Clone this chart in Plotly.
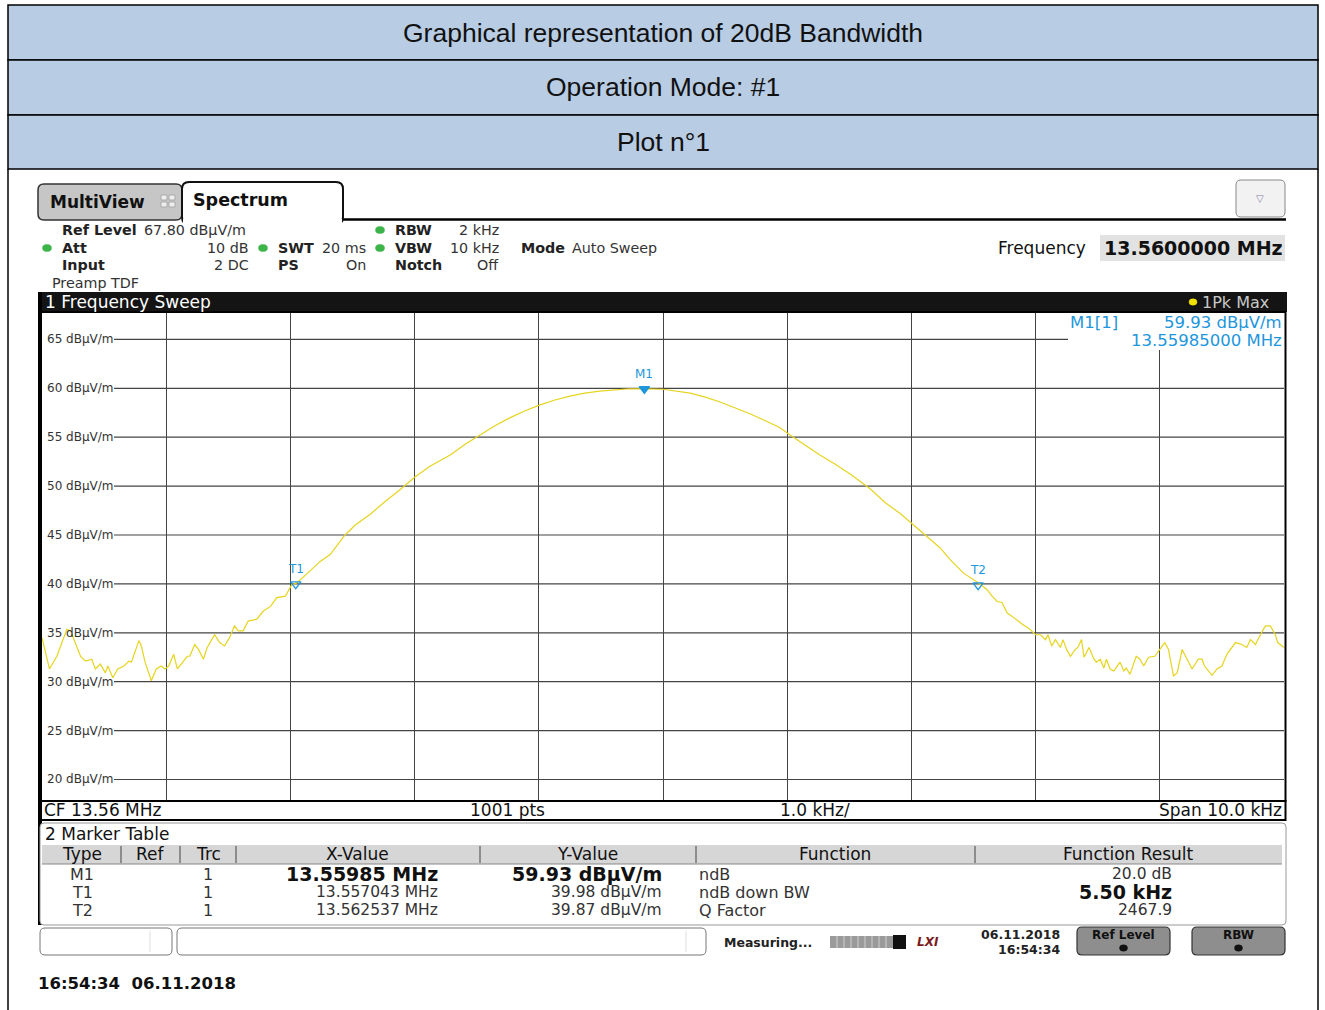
import plotly.graph_objects as go

W, H = 1325, 1010

# ------------------------------------------------------------------ data
START_MHZ = 13.555
STOP_MHZ = 13.565
REF_LEVEL = 67.80
BOTTOM_LEVEL = 17.80

# trace: offset (kHz) from start frequency, level (dBuV/m)
trace_offset_khz = [
    0.00, 0.06, 0.12, 0.20, 0.23, 0.31, 0.35, 0.40, 0.43, 0.47, 0.51, 0.53, 0.57, 0.61,
    0.66, 0.70, 0.72, 0.78, 0.80, 0.83, 0.88, 0.92, 0.96, 0.99, 1.02, 1.06, 1.09, 1.13,
    1.17, 1.19, 1.23, 1.26, 1.30, 1.33, 1.39, 1.43, 1.47, 1.51, 1.55, 1.58, 1.62, 1.66,
    1.73, 1.78, 1.84, 1.89, 1.96, 2.01, 2.05, 2.13, 2.24, 2.32, 2.44, 2.52, 2.64, 2.76,
    2.88, 3.00, 3.12, 3.29, 3.41, 3.53, 3.65, 3.77, 3.89, 4.01, 4.13, 4.25, 4.37, 4.49,
    4.61, 4.73, 4.85, 5.00, 5.22, 5.34, 5.46, 5.58, 5.70, 5.82, 5.94, 6.02, 6.14, 6.26,
    6.39, 6.51, 6.67, 6.79, 6.91, 7.03, 7.11, 7.23, 7.31, 7.42, 7.54, 7.61, 7.65, 7.69,
    7.73, 7.77, 7.83, 7.89, 7.94, 8.00, 8.04, 8.08, 8.10, 8.13, 8.16, 8.20, 8.22, 8.25,
    8.28, 8.32, 8.34, 8.37, 8.39, 8.43, 8.47, 8.49, 8.52, 8.55, 8.57, 8.60, 8.63, 8.68,
    8.71, 8.73, 8.76, 8.81, 8.84, 8.87, 8.91, 8.96, 9.00, 9.04, 9.07, 9.11, 9.14, 9.18,
    9.22, 9.26, 9.31, 9.34, 9.36, 9.42, 9.46, 9.50, 9.54, 9.61, 9.66, 9.70, 9.73, 9.77,
    9.81, 9.85, 9.89, 9.93, 9.95, 10.00,
]
trace_level = [
    34.5, 31.3, 32.6, 35.35, 35.2, 32.6, 32.1, 32.3, 31.3, 31.8, 30.9, 31.6, 30.4, 31.3,
    31.6, 32.1, 32.0, 34.2, 33.65, 32.0, 30.1, 31.3, 31.6, 31.3, 31.6, 32.8, 31.3, 32.0,
    32.6, 32.6, 33.8, 33.3, 32.3, 33.5, 34.8, 34.0, 33.65, 34.5, 35.7, 35.2, 35.2, 36.2,
    36.4, 37.2, 37.7, 38.6, 38.75, 39.9, 40.1, 41.0, 42.3, 43.0, 45.0, 46.0, 47.1, 48.4,
    49.6, 50.9, 52.0, 53.2, 54.3, 55.25, 56.2, 57.0, 57.7, 58.3, 58.8, 59.2, 59.5, 59.7,
    59.85, 59.95, 59.93, 59.9, 59.5, 59.1, 58.6, 58.0, 57.4, 56.7, 56.0, 55.25, 54.2, 53.2,
    52.2, 51.2, 49.7, 48.3, 47.2, 45.9, 45.1, 43.7, 42.5, 41.1, 40.1, 39.4, 38.75, 38.2,
    38.1, 37.05, 36.5, 35.9, 35.5, 34.8, 34.8, 34.3, 34.8, 33.65, 34.3, 33.5, 34.3, 33.3,
    32.6, 33.3, 33.5, 34.3, 32.5, 33.5, 32.3, 32.0, 32.3, 31.4, 32.3, 31.3, 31.1, 32.0,
    31.1, 31.4, 30.75, 32.6, 32.3, 31.6, 32.5, 32.6, 33.3, 34.0, 33.3, 30.6, 30.9, 33.3,
    32.3, 31.3, 32.3, 32.3, 31.6, 30.65, 31.3, 31.6, 32.8, 34.0, 33.8, 33.5, 34.3, 33.8,
    34.8, 35.7, 35.7, 34.8, 34.0, 33.5,
]

y_ticks = [20, 25, 30, 35, 40, 45, 50, 55, 60, 65]
y_unit = "dBµV/m"

marker_names = ["M1", "T1", "T2"]
marker_freq_mhz = [13.55985, 13.557043, 13.562537]
marker_level = [59.93, 39.98, 39.87]
marker_trc = ["1", "1", "1"]
function_names = ["ndB", "ndB down BW", "Q Factor"]
function_results = ["20.0 dB", "5.50 kHz", "2467.9"]

# ------------------------------------------------------------------ helpers
INSTR = "DejaVu Sans"
TITLE = "Liberation Sans, Arial"
BLUE = "#1e96dc"

fig = go.Figure()


def px(x):
    return x / W


def py(y):
    return 1 - y / H


def rect(x0, y0, x1, y1, fill=None, line=None, lw=1, layer="above"):
    fig.add_shape(type="rect", xref="paper", yref="paper",
                  x0=px(x0), x1=px(x1), y0=py(y1), y1=py(y0),
                  fillcolor=fill if fill else "rgba(0,0,0,0)",
                  line=dict(color=line if line else "rgba(0,0,0,0)", width=lw if line else 0),
                  layer=layer)


def hline(x0, x1, y, color="#000", lw=1, layer="above"):
    fig.add_shape(type="line", xref="paper", yref="paper",
                  x0=px(x0), x1=px(x1), y0=py(y), y1=py(y),
                  line=dict(color=color, width=lw), layer=layer)


def vline(x, y0, y1, color="#000", lw=1, layer="above"):
    fig.add_shape(type="line", xref="paper", yref="paper",
                  x0=px(x), x1=px(x), y0=py(y0), y1=py(y1),
                  line=dict(color=color, width=lw), layer=layer)


def rrect(x0, y0, x1, y1, r, fill=None, line=None, lw=1):
    X0, X1 = px(x0), px(x1)
    Y0, Y1 = py(y0), py(y1)
    rx, ry = r / W, r / H
    p = (f"M {X0+rx},{Y0} L {X1-rx},{Y0} Q {X1},{Y0} {X1},{Y0-ry} "
         f"L {X1},{Y1+ry} Q {X1},{Y1} {X1-rx},{Y1} L {X0+rx},{Y1} "
         f"Q {X0},{Y1} {X0},{Y1+ry} L {X0},{Y0-ry} Q {X0},{Y0} {X0+rx},{Y0} Z")
    fig.add_shape(type="path", xref="paper", yref="paper", path=p,
                  fillcolor=fill if fill else "rgba(0,0,0,0)",
                  line=dict(color=line if line else "rgba(0,0,0,0)", width=lw if line else 0))


def dot(x, y, r, color, line=None):
    fig.add_shape(type="circle", xref="paper", yref="paper",
                  x0=px(x - r), x1=px(x + r), y0=py(y + r * 0.8), y1=py(y - r * 0.8),
                  fillcolor=color, line=dict(color=line if line else color, width=0.5))


def T(x, y, s, size=14, color="#222", bold=False, anchor="left", family=INSTR):
    fig.add_annotation(x=px(x), y=py(y), xref="paper", yref="paper",
                       text=f"<b>{s}</b>" if bold else s, showarrow=False,
                       xanchor=anchor, yanchor="middle", borderpad=0,
                       font=dict(size=size, color=color, family=family))


# ------------------------------------------------------------------ data traces
freqs = [START_MHZ + k / 1000 for k in trace_offset_khz]
fig.add_trace(go.Scatter(x=freqs, y=trace_level, mode="lines",
                         line=dict(color="#e6d41e", width=1.2), hoverinfo="skip"))
fig.add_trace(go.Scatter(x=marker_freq_mhz, y=marker_level, mode="markers",
                         marker=dict(symbol=["triangle-down", "triangle-down-open", "triangle-down-open"],
                                     size=9, color=BLUE, line=dict(color=BLUE, width=1.3)),
                         hoverinfo="skip"))
for n, f, l in zip(marker_names, marker_freq_mhz, marker_level):
    fig.add_annotation(x=f, y=l, xref="x", yref="y", text=n, showarrow=False,
                       yshift=15, font=dict(size=12, color=BLUE, family=INSTR))

# horizontal grid lines (start right of the level labels)
for v in y_ticks:
    fig.add_shape(type="line", xref="paper", yref="y", x0=px(114), x1=px(1284), y0=v, y1=v,
                  line=dict(color="#444", width=1.2), layer="below")
    fig.add_annotation(x=px(46), y=v, xref="paper", yref="y", text=f"{v} {y_unit}",
                       showarrow=False, xanchor="left", yanchor="middle", borderpad=0,
                       font=dict(size=12, color="#333", family=INSTR))

# ------------------------------------------------------------------ title rows
for (y0, y1, s) in [(5, 60, "Graphical representation of 20dB Bandwidth"),
                    (60, 115, "Operation Mode: #1"),
                    (115, 169, "Plot n°1")]:
    rect(8, y0, 1318, y1, fill="#b8cce4", line="#000", lw=1.5)
    T(663, (y0 + y1) / 2, s, size=26.5, color="#111", anchor="center", family=TITLE)
vline(8, 169, 1010, lw=1.5)
vline(1318, 169, 1010, lw=1.5)

# ------------------------------------------------------------------ tabs
rrect(38, 184, 182, 220, 6, fill="#c6c6c6", line="#333", lw=1.5)
T(49, 202, "MultiView", size=17, bold=True, color="#111")
rect(161, 195, 167, 200, fill="#eee", line="#aaa", lw=1)
rect(169, 195, 175, 200, fill="#eee", line="#aaa", lw=1)
rect(161, 202, 167, 207, fill="#eee", line="#aaa", lw=1)
rect(169, 202, 175, 207, fill="#eee", line="#aaa", lw=1)
rrect(182, 182, 343, 224, 7, fill="#fff", line="#111", lw=2)
rect(183, 219, 342, 226, fill="#fff")
hline(343, 1286, 219.5, lw=2.5)
T(192, 200, "Spectrum", size=17.5, bold=True, color="#111")
rrect(1236, 180, 1285, 217, 5, fill="#f2f2f2", line="#888", lw=1)
T(1260, 199, "▽", size=10, color="#8080a8", anchor="center")

# ------------------------------------------------------------------ info panel
GREEN = "#3cb44a"
FS = 14.3
T(61, 230, "Ref Level", bold=True, size=FS)
T(143, 230, "67.80 dBµV/m", color="#333", size=FS)
dot(380, 230, 4.5, GREEN)
T(394, 230, "RBW", bold=True, size=FS)
T(500, 230, "2 kHz", anchor="right", color="#333", size=FS)

dot(47, 248, 4.5, GREEN)
T(61, 248, "Att", bold=True, size=FS)
T(250, 248, "10 dB", anchor="right", color="#333", size=FS)
dot(263, 248, 4.5, GREEN)
T(277, 248, "SWT", bold=True, size=FS)
T(367, 248, "20 ms", anchor="right", color="#333", size=FS)
dot(380, 248, 4.5, GREEN)
T(394, 248, "VBW", bold=True, size=FS)
T(500, 248, "10 kHz", anchor="right", color="#333", size=FS)
T(520, 248, "Mode", bold=True, size=FS)
T(571, 248, "Auto Sweep", color="#333", size=FS)

T(61, 265, "Input", bold=True, size=FS)
T(250, 265, "2 DC", anchor="right", color="#333", size=FS)
T(277, 265, "PS", bold=True, size=FS)
T(367, 265, "On", anchor="right", color="#333", size=FS)
T(394, 265, "Notch", bold=True, size=FS)
T(500, 265, "Off", anchor="right", color="#333", size=FS)
T(51, 283, "Preamp TDF", color="#333", size=FS)

T(1087, 248, "Frequency", size=17, anchor="right", color="#111")
rect(1100, 235, 1285, 261, fill="#e2e2e2")
T(1284, 248, "13.5600000 MHz", size=19, bold=True, anchor="right", color="#111")

# ------------------------------------------------------------------ diagram header bar
rect(38, 292, 1287, 312, fill="#141414")
T(44, 302, "1 Frequency Sweep", size=17, color="#fff")
dot(1193, 302, 4, "#f2e200")
T(1201, 302, "1Pk Max", size=16, color="#c8c8c8")

# marker result box in the diagram
rect(1068, 313, 1285, 350, fill="#fff")
T(1069, 322, f"{marker_names[0]}[1]", size=16.5, color=BLUE)
T(1283, 322, f"{marker_level[0]:.2f} {y_unit}", size=16.5, color=BLUE, anchor="right")
T(1283, 340, f"{marker_freq_mhz[0]:.8f} MHz", size=16.5, color=BLUE, anchor="right")

# frame of diagram
rect(40, 312, 1285.5, 801, line="#000", lw=2)
rect(40, 801, 1285.5, 820, fill="#fff", line="#000", lw=2)
vline(40, 292, 925, lw=4)
span_khz = (STOP_MHZ - START_MHZ) * 1000
T(43, 810, f"CF {(START_MHZ + STOP_MHZ) / 2:.2f} MHz", size=17, color="#111")
T(507, 810, "1001 pts", size=17, color="#111", anchor="center")
T(815, 810, f"{span_khz / 10:.1f} kHz/", size=17, color="#111", anchor="center")
T(1283, 810, f"Span {span_khz:.1f} kHz", size=17, color="#111", anchor="right")

# ------------------------------------------------------------------ marker table
rrect(40, 823, 1286, 925, 4, fill="#fff", line="#999", lw=1)
T(44, 834, "2 Marker Table", size=17, color="#111")
rect(42, 845, 1282, 864, fill="#d6d6d6")
hline(42, 1282, 864, color="#888", lw=1)
for xs in [121, 180, 236, 480, 696, 975]:
    vline(xs, 846, 863, color="#444", lw=1)
for (xc, s) in [(82, "Type"), (150, "Ref"), (208, "Trc"), (357, "X-Value"),
                (587, "Y-Value"), (835, "Function"), (1128, "Function Result")]:
    T(xc, 854, s, size=17, color="#111", anchor="center")

row_y = [874, 892, 910]
for i in range(3):
    y = row_y[i]
    big = i == 0
    T(82, y, marker_names[i], size=16, color="#333", anchor="center")
    T(208, y, marker_trc[i], size=16, color="#333", anchor="center")
    xs = f"{marker_freq_mhz[i]:.5f} MHz" if big else f"{marker_freq_mhz[i]:.6f} MHz"
    T(439, y, xs, size=19 if big else 15.5, bold=big, color="#111" if big else "#333", anchor="right")
    T(663, y, f"{marker_level[i]:.2f} {y_unit}", size=19 if big else 15.5, bold=big,
      color="#111" if big else "#333", anchor="right")
    T(698, y, function_names[i], size=16, color="#333")
    bold_res = i == 1
    T(1173, y, function_results[i], size=19 if bold_res else 15.5, bold=bold_res,
      color="#111" if bold_res else "#333", anchor="right")

# ------------------------------------------------------------------ status bar
rrect(40, 928, 172, 955, 5, fill="#fff", line="#777", lw=1)
vline(150, 931, 952, color="#ddd", lw=1)
rrect(177, 928, 706, 955, 5, fill="#fff", line="#777", lw=1)
vline(686, 931, 952, color="#ddd", lw=1)
T(723, 942, "Measuring...", size=12.5, bold=True, color="#222")
rect(830, 936, 893, 948, fill="#9a9a9a")
for xs in range(837, 893, 7):
    vline(xs, 936, 948, color="#d0d0d0", lw=1)
rect(893, 935, 906, 949, fill="#111")
T(928, 942, "<i>LXI</i>", size=12, bold=True, color="#7a1c1c", anchor="center")
T(1061, 934, "06.11.2018", size=12.5, bold=True, color="#222", anchor="right")
T(1061, 949, "16:54:34", size=12.5, bold=True, color="#222", anchor="right")
for (x0, x1, s) in [(1077, 1170, "Ref Level"), (1192, 1285, "RBW")]:
    rrect(x0, 927, x1, 955, 5, fill="#8e8e8e", line="#333", lw=1.2)
    T((x0 + x1) / 2, 935, s, size=12, bold=True, color="#111", anchor="center")
    dot((x0 + x1) / 2, 948, 4, "#111")

T(37, 983, "16:54:34  06.11.2018", size=16.5, bold=True, color="#111")

# ------------------------------------------------------------------ layout
fig.update_layout(
    width=W, height=H, margin=dict(l=0, r=0, t=0, b=0),
    paper_bgcolor="#fff", plot_bgcolor="#fff", showlegend=False,
    xaxis=dict(domain=[px(42), px(1284)], range=[START_MHZ, STOP_MHZ],
               showgrid=True, gridcolor="#444", gridwidth=1.2, dtick=0.001, tick0=START_MHZ,
               showticklabels=False, zeroline=False, showline=False, fixedrange=True),
    yaxis=dict(domain=[py(801), py(312)], range=[BOTTOM_LEVEL, REF_LEVEL],
               showgrid=False, showticklabels=False, zeroline=False, showline=False,
               fixedrange=True),
)

fig.write_html("out.html", config={"displayModeBar": False},
               post_script="document.body.style.margin='0';document.body.style.overflow='hidden';")
